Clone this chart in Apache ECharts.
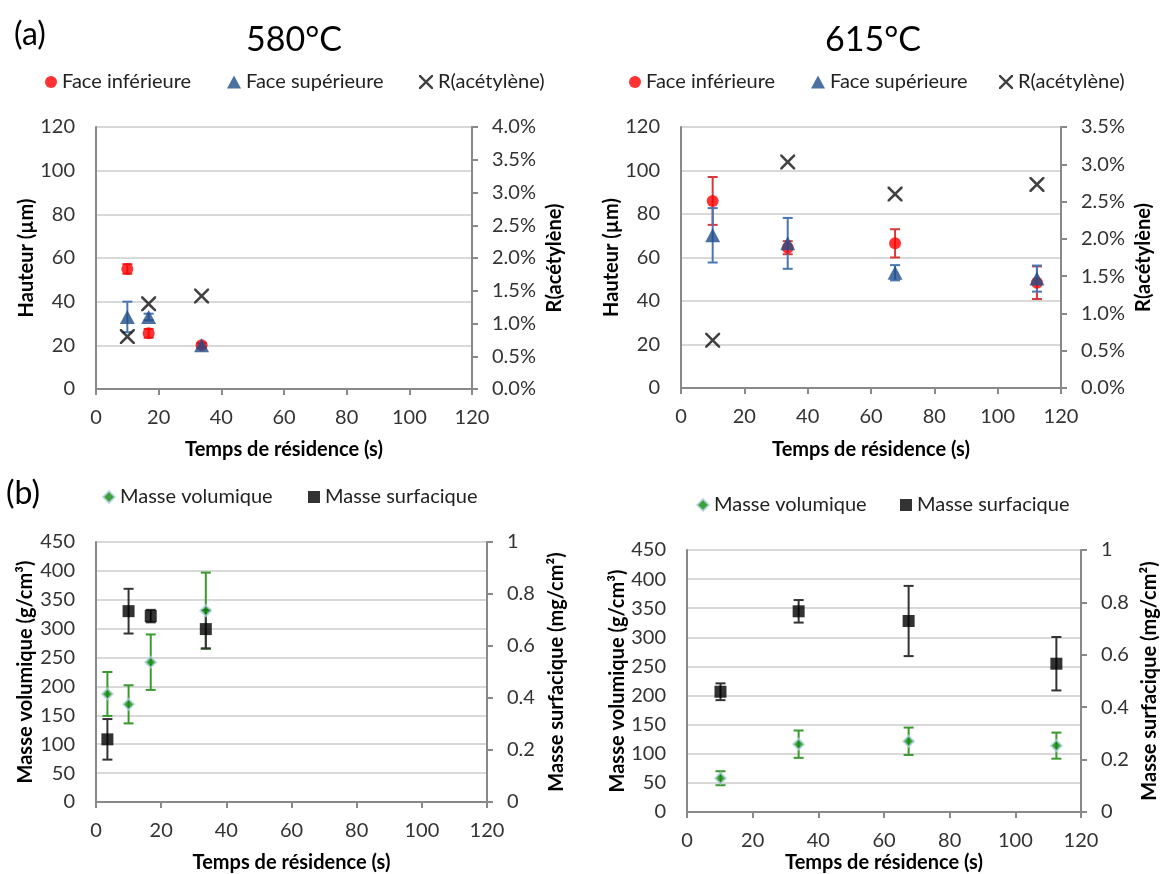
<!DOCTYPE html>
<html><head><meta charset="utf-8">
<script src="https://cdn.jsdelivr.net/npm/echarts@6/dist/echarts.min.js"></script>
<style>html,body{margin:0;padding:0;background:#fff}#c{width:1164px;height:874px}</style>
</head><body><div id="c"></div>
<script>
// ---------- DATA ----------
// (a) 580°C : height (µm) and R(acétylène) (%)
const t580 = [10, 16.8, 33.7];
const inf580 = [55, 25.5, 20];
const infErr580 = [2.2, 2, 1];
const sup580 = [33, 33, 20];
const supErr580 = [7, 1.5, 1];
const rac580 = [0.8, 1.3, 1.42];
// (a) 615°C
const t615 = [10, 33.7, 67.6, 112.4];
const inf615 = [86, 64.5, 66.5, 48.4];
const infErr615 = [11, 3, 6.5, 7.5];
const sup615 = [70.2, 66.5, 53, 50.3];
const supErr615 = [12.5, 11.7, 3.5, 6];
const rac615 = [0.64, 3.03, 2.6, 2.73];
// (b) 580°C : masse volumique (g/cm³), masse surfacique (mg/cm²)
const tb580 = [3.5, 10, 16.8, 33.7];
const vol580 = [187, 169, 242, 331];
const volErr580 = [38, 33, 48, 66];
const surf580 = [0.241, 0.734, 0.715, 0.665];
const surfErr580 = [0.078, 0.086, 0.024, 0.074];
// (b) 615°C
const tb615 = [10.2, 34, 67.5, 112.5];
const vol615 = [58, 116.5, 121.5, 114];
const volErr615 = [12, 23.5, 23.5, 22.4];
const surf615 = [0.459, 0.766, 0.729, 0.566];
const surfErr615 = [0.032, 0.043, 0.134, 0.102];

// axis ranges [min, max, interval]
const xRange = [0, 120, 20];
const hRange = [0, 120, 20];
const r580Range = [0, 4, 0.5];
const r615Range = [0, 3.5, 0.5];
const volRange = [0, 450, 50];
const surfRange = [0, 1, 0.2];

// ---------- STYLE ----------
const FONT = 'Lato';
const AX = '#898989';
const GRIDC = '#D9D9D9';
const TICKFS = 20, NAMEFS = 20, LEGFS = 20;
const X_PATH = 'path://M0,0 L2.4,0 L10,7.6 L17.6,0 L20,0 L20,2.4 L12.4,10 L20,17.6 L20,20 L17.6,20 L10,12.4 L2.4,20 L0,20 L0,17.6 L7.6,10 L0,2.4 Z';

function xAxis(gi, nameGap) {
  return {
    type: 'value', gridIndex: gi, min: xRange[0], max: xRange[1], interval: xRange[2],
    name: 'Temps de résidence (s)', nameLocation: 'middle', nameGap: nameGap,
    nameTextStyle: { fontFamily: FONT, fontSize: NAMEFS, fontWeight: 'bold', color: '#000' },
    axisLine: { show: true, onZero: false, lineStyle: { color: AX, width: 2 } },
    axisTick: { show: true, length: 6, lineStyle: { color: AX, width: 2 } },
    axisLabel: { fontFamily: FONT, fontSize: TICKFS, color: '#333', margin: 19 },
    splitLine: { show: false }
  };
}
function yLeft(gi, range, name, nameGap) {
  return {
    type: 'value', gridIndex: gi, position: 'left', min: range[0], max: range[1], interval: range[2],
    name: name, nameLocation: 'middle', nameGap: nameGap,
    nameTextStyle: { fontFamily: FONT, fontSize: NAMEFS, fontWeight: 'bold', color: '#000' },
    axisLine: { show: true, onZero: false, lineStyle: { color: AX, width: 2 } },
    axisTick: { show: false },
    axisLabel: { fontFamily: FONT, fontSize: TICKFS, color: '#333', margin: 21 },
    splitLine: { show: true, lineStyle: { color: GRIDC, width: 2 } }
  };
}
function yRight(gi, range, name, nameGap, fmt) {
  return {
    type: 'value', gridIndex: gi, position: 'right', min: range[0], max: range[1], interval: range[2],
    name: name, nameLocation: 'middle', nameGap: nameGap,
    nameTextStyle: { fontFamily: FONT, fontSize: NAMEFS, fontWeight: 'bold', color: '#000' },
    axisLine: { show: true, onZero: false, lineStyle: { color: AX, width: 2 } },
    axisTick: { show: true, inside: false, length: 6, lineStyle: { color: AX, width: 2 } },
    axisLabel: { fontFamily: FONT, fontSize: TICKFS, color: '#333', margin: 20, formatter: fmt },
    splitLine: { show: false }
  };
}

function errRender(color, cap) {
  return function (params, api) {
    const x = api.value(0), lo = api.value(1), hi = api.value(2);
    const p1 = api.coord([x, lo]), p2 = api.coord([x, hi]);
    const st = { stroke: color, lineWidth: 2 };
    return { type: 'group', children: [
      { type: 'line', shape: { x1: p1[0], y1: p1[1], x2: p2[0], y2: p2[1] }, style: st },
      { type: 'line', shape: { x1: p1[0] - cap, y1: p1[1], x2: p1[0] + cap, y2: p1[1] }, style: st },
      { type: 'line', shape: { x1: p2[0] - cap, y1: p2[1], x2: p2[0] + cap, y2: p2[1] }, style: st }
    ]};
  };
}
function errSeries(name, xi, yi, xs, vals, errs, color) {
  return {
    type: 'custom', name: name, xAxisIndex: xi, yAxisIndex: yi, clip: false, z: 2,
    renderItem: errRender(color, 5),
    encode: { x: 0, y: [1, 2] },
    data: xs.map((t, i) => [t, vals[i] - errs[i], vals[i] + errs[i]])
  };
}
function pts(xs, vals) { return xs.map((t, i) => [t, vals[i]]); }

const RED = '#FF0000', RED_ERR = '#D9383A';
const BLUE = '#1F4E89', BLUE_ERR = '#4A77B0';
const GREEN = '#0A8A0A', GREEN_ERR = '#3A9A2F';
const BLACK = '#000000', BLACK_ERR = '#333333';

const circ = { symbol: 'circle', symbolSize: 12, itemStyle: { color: RED } };
const tri = { symbol: 'triangle', symbolSize: [15, 14], itemStyle: { color: BLUE } };
const cross = { symbol: X_PATH, symbolSize: 15, itemStyle: { color: '#111' } };
const diam = { symbol: 'diamond', symbolSize: 11, itemStyle: { color: GREEN, borderColor: 'rgba(190,210,235,0.9)', borderWidth: 2 } };
const sq = { symbol: 'rect', symbolSize: 12, itemStyle: { color: BLACK } };

function sc(name, xi, yi, data, sty) {
  return Object.assign({ type: 'scatter', name: name, xAxisIndex: xi, yAxisIndex: yi, z: 3, data: data, emphasis: { disabled: true } }, sty);
}

const legTxt = { fontFamily: FONT, fontSize: LEGFS, color: '#222' };
function leg(name, icon, left, top, w, h) {
  return { data: [{ name: name, icon: icon }], left: left, top: top, itemWidth: w, itemHeight: h,
    itemGap: 0, padding: 0, textStyle: legTxt, selectedMode: false };
}

const option = {
  animation: false,
  backgroundColor: '#fff',
  textStyle: { fontFamily: FONT },
  grid: [
    { left: 96, top: 127, width: 376, height: 262 },
    { left: 681, top: 127, width: 380, height: 261 },
    { left: 96, top: 542, width: 391, height: 261 },
    { left: 687, top: 550, width: 394, height: 262 }
  ],
  xAxis: [xAxis(0, 51), xAxis(1, 52), xAxis(2, 51), xAxis(3, 41)],
  yAxis: [
    yLeft(0, hRange, 'Hauteur (µm)', 58),
    yRight(0, r580Range, 'R(acétylène)', 73, v => v.toFixed(1) + '%'),
    yLeft(1, hRange, 'Hauteur (µm)', 58),
    yRight(1, r615Range, 'R(acétylène)', 73, v => v.toFixed(1) + '%'),
    yLeft(2, volRange, 'Masse volumique (g/cm³)', 60),
    yRight(2, surfRange, 'Masse surfacique (mg/cm²)', 60, v => String(+v.toFixed(1))),
    yLeft(3, volRange, 'Masse volumique (g/cm³)', 59),
    yRight(3, surfRange, 'Masse surfacique (mg/cm²)', 59, v => String(+v.toFixed(1)))
  ],
  legend: [
    leg('Face inférieure', 'circle', 45, 72, 12, 12),
    leg('Face supérieure', 'triangle', 227, 72, 14, 13),
    leg('R(acétylène)', X_PATH, 419, 72, 14, 14),
    leg('Face inférieure', 'circle', 629, 72, 12, 12),
    leg('Face supérieure', 'triangle', 811, 72, 14, 13),
    leg('R(acétylène)', X_PATH, 999, 72, 14, 14),
    leg('Masse volumique', 'diamond', 102, 487, 12, 12),
    leg('Masse surfacique', 'rect', 308, 487, 12, 12),
    leg('Masse volumique', 'diamond', 696, 495, 12, 12),
    leg('Masse surfacique', 'rect', 900, 495, 12, 12)
  ],
  graphic: [
    { type: 'text', x: 14, y: 35, style: { text: '(a)', fontFamily: FONT, fontSize: 32, fill: '#000', textVerticalAlign: 'middle' } },
    { type: 'text', x: 294, y: 40, style: { text: '580°C', fontFamily: FONT, fontSize: 34, fill: '#000', textAlign: 'center', textVerticalAlign: 'middle' } },
    { type: 'text', x: 873, y: 40, style: { text: '615°C', fontFamily: FONT, fontSize: 34, fill: '#000', textAlign: 'center', textVerticalAlign: 'middle' } },
    { type: 'text', x: 6, y: 494, style: { text: '(b)', fontFamily: FONT, fontSize: 32, fill: '#000', textVerticalAlign: 'middle' } }
  ],
  series: [
    // panel 1
    errSeries('e1', 0, 0, t580, inf580, infErr580, RED_ERR),
    sc('Face inférieure', 0, 0, pts(t580, inf580), circ),
    errSeries('e2', 0, 0, t580, sup580, supErr580, BLUE_ERR),
    sc('Face supérieure', 0, 0, pts(t580, sup580), tri),
    sc('R(acétylène)', 0, 1, pts(t580, rac580), cross),
    // panel 2
    errSeries('e3', 1, 2, t615, inf615, infErr615, RED_ERR),
    sc('Face inférieure', 1, 2, pts(t615, inf615), circ),
    errSeries('e4', 1, 2, t615, sup615, supErr615, BLUE_ERR),
    sc('Face supérieure', 1, 2, pts(t615, sup615), tri),
    sc('R(acétylène)', 1, 3, pts(t615, rac615), cross),
    // panel 3
    errSeries('e5', 2, 4, tb580, vol580, volErr580, GREEN_ERR),
    sc('Masse volumique', 2, 4, pts(tb580, vol580), diam),
    errSeries('e6', 2, 5, tb580, surf580, surfErr580, BLACK_ERR),
    sc('Masse surfacique', 2, 5, pts(tb580, surf580), sq),
    // panel 4
    errSeries('e7', 3, 6, tb615, vol615, volErr615, GREEN_ERR),
    sc('Masse volumique', 3, 6, pts(tb615, vol615), diam),
    errSeries('e8', 3, 7, tb615, surf615, surfErr615, BLACK_ERR),
    sc('Masse surfacique', 3, 7, pts(tb615, surf615), sq)
  ]
};
const chart = echarts.init(document.getElementById('c'), null, { renderer: 'canvas' });
chart.setOption(option);
</script>
</body></html>
